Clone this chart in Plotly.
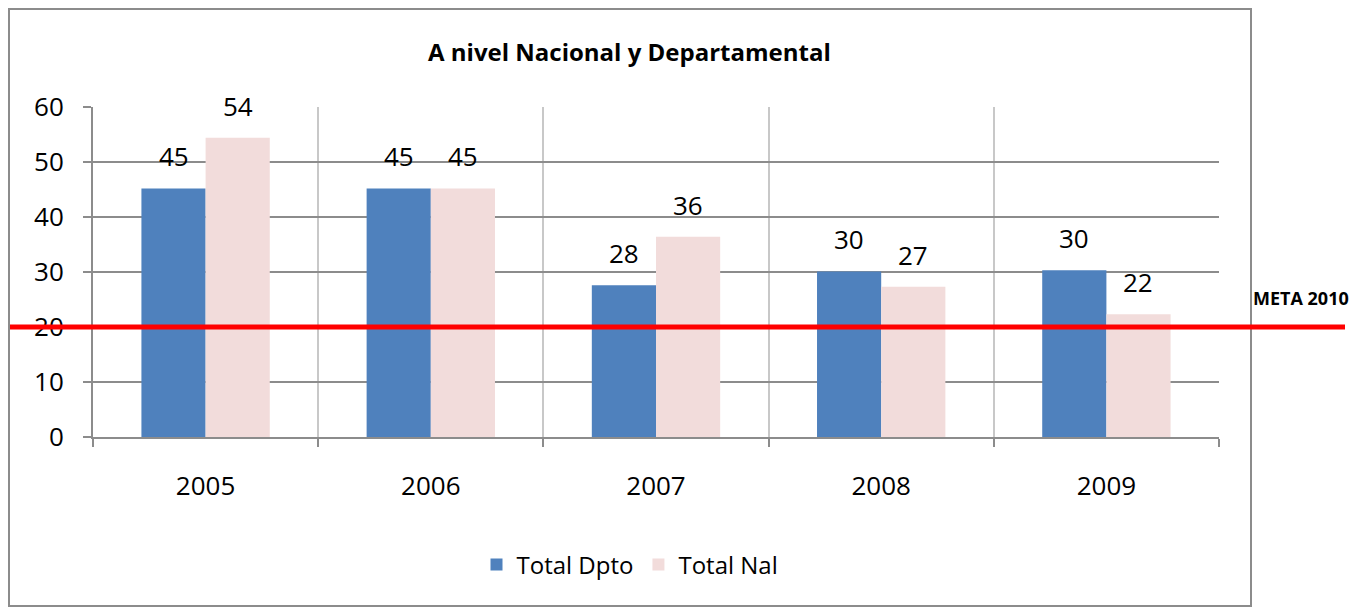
import plotly.graph_objects as go

years = ["2005", "2006", "2007", "2008", "2009"]
total_dpto = [45.2, 45.2, 27.6, 30.1, 30.3]
total_nal = [54.4, 45.2, 36.4, 27.3, 22.3]
meta_2010 = 20
title = "A nivel Nacional y Departamental"
meta_label = "META 2010"

W, H = 1370, 610
OFF = 8  # page body margin
L, T = 93 - OFF, 107 - OFF
R = W - (1219 - OFF)
B = H - (437 - OFF)
pw, ph = W - L - R, H - T - B

def px_x(p):
    return (p - OFF - L) / pw

def px_y(p):
    return (H - B - (p - OFF)) / ph

FONT = "Open Sans"
BLUE = "#4f81bd"
PINK = "#f2dcdb"

fig = go.Figure()
fig.add_trace(go.Bar(name="Total Dpto", x=years, y=total_dpto, marker_color=BLUE,
                     marker_line_width=0))
fig.add_trace(go.Bar(name="Total Nal", x=years, y=total_nal, marker_color=PINK,
                     marker_line_width=0))

annotations = []
for i, yr in enumerate(years):
    for val, shift in ((total_dpto[i], -32), (total_nal[i], 32)):
        annotations.append(dict(x=i, y=val, xref="x", yref="y", text=f"{val:.0f}",
                                showarrow=False, xshift=shift, yshift=12,
                                yanchor="bottom", font=dict(family=FONT, size=26, color="#000")))

annotations.append(dict(x=px_x(1301), y=px_y(298), xref="paper", yref="paper",
                        text=f"<b>{meta_label}</b>", showarrow=False,
                        xanchor="center", yanchor="middle",
                        font=dict(family=FONT, size=18, color="#000")))
annotations.append(dict(x=px_x(629), y=px_y(52), xref="paper", yref="paper",
                        text=f"<b>{title}</b>", showarrow=False,
                        xanchor="center", yanchor="middle",
                        font=dict(family=FONT, size=24, color="#000")))

shapes = [
    dict(type="rect", xref="paper", yref="paper",
         x0=px_x(OFF + 1), x1=px_x(1251), y0=px_y(606), y1=px_y(OFF + 1),
         line=dict(color="#8c8c8c", width=2), fillcolor="rgba(0,0,0,0)"),
    dict(type="line", xref="paper", yref="y", x0=px_x(10), x1=px_x(1345),
         y0=meta_2010, y1=meta_2010, line=dict(color="#ff0000", width=5)),
]

fig.update_layout(
    width=W, height=H,
    margin=dict(l=L, r=R, t=T, b=B),
    paper_bgcolor="white", plot_bgcolor="white",
    barmode="group", bargap=0.43, bargroupgap=0,
    font=dict(family=FONT, color="#000"),
    showlegend=True,
    legend=dict(orientation="h", x=px_x(630), y=px_y(565), xanchor="center", yanchor="middle",
                font=dict(family=FONT, size=24), itemsizing="constant", traceorder="normal"),
    annotations=annotations,
    shapes=shapes,
    xaxis=dict(type="category", tickson="boundaries", showgrid=True, gridcolor="#c8c8c8",
               gridwidth=2, ticks="outside", ticklen=8, tickcolor="#8c8c8c", tickwidth=2,
               showline=True, linecolor="#8c8c8c", linewidth=2, tickangle=0,
               range=[-0.5, len(years) - 0.5],
               tickfont=dict(family=FONT, size=26), ticklabelstandoff=25),
    yaxis=dict(range=[0, 60], dtick=10, showgrid=True, gridcolor="#8c8c8c", gridwidth=2,
               ticks="outside", ticklen=8, tickcolor="#8c8c8c", tickwidth=2,
               showline=True, linecolor="#8c8c8c", linewidth=2, zeroline=False,
               tickfont=dict(family=FONT, size=26), ticklabelstandoff=14),
)

fig.write_html("out.html")
